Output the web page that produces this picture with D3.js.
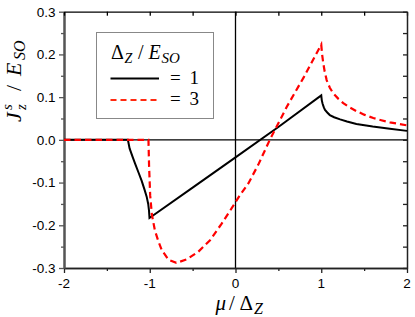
<!DOCTYPE html>
<html>
<head>
<meta charset="utf-8">
<script src="https://cdn.jsdelivr.net/npm/d3@7"></script>
<style>
  body { margin:0; background:#fff; }
  svg { display:block; }
</style>
</head>
<body>
<div id="chart"></div>
<script>
// values
const xTicks = [-2, -1, 0, 1, 2];
const xTickLabels = ["-2", "-1", "0", "1", "2"];
const xMinor = [-1.5, -0.5, 0.5, 1.5];
const yTicks = [-0.3, -0.2, -0.1, 0.0, 0.1, 0.2, 0.3];
const yTickLabels = ["-0.3", "-0.2", "-0.1", "0.0", "0.1", "0.2", "0.3"];
const yMinor = [-0.25, -0.15, -0.05, 0.05, 0.15, 0.25];

// Delta_Z / E_SO = 1
const muOne = [-2, -1.255, -1.235, -1.2, -1.172, -1.13, -1.094, -1.06, -1.036, -1.018, -1.009, -1.003,
  -0.5, 0, 0.5, 1, 1.006, 1.015, 1.03, 1.044, 1.07, 1.1, 1.15, 1.22, 1.3, 1.41, 1.6, 1.8, 2];
const jOne = [0, 0, -0.02, -0.04, -0.055, -0.077, -0.096, -0.117, -0.133, -0.15, -0.165, -0.183,
  -0.112, -0.041, 0.03, 0.104, 0.093, 0.085, 0.076, 0.07, 0.064, 0.058, 0.053, 0.048, 0.043, 0.037, 0.031, 0.026, 0.021];

// Delta_Z / E_SO = 3
const muThree = [-2, -1.015, -1.008, -0.995, -0.975, -0.94, -0.9, -0.86, -0.78, -0.69, -0.57, -0.434,
  -0.297, -0.161, -0.044, 0.05, 0.15, 0.266, 0.4, 0.6, 0.8, 1, 1.01, 1.024, 1.04, 1.063, 1.1, 1.14,
  1.2, 1.257, 1.33, 1.413, 1.5, 1.607, 1.7, 1.8, 2];
const jThree = [0, 0, -0.06, -0.13, -0.175, -0.212, -0.237, -0.258, -0.281, -0.288, -0.28, -0.262,
  -0.235, -0.196, -0.16, -0.13, -0.102, -0.058, 0, 0.078, 0.148, 0.223, 0.2, 0.179, 0.16, 0.14, 0.122, 0.109,
  0.096, 0.086, 0.076, 0.067, 0.059, 0.051, 0.046, 0.041, 0.034];

const W = 415, H = 317;
const L = 64, R = 407, T = 11.7, B = 268;
const SANS = "Liberation Sans";
const SERIF = "Liberation Serif";

const svg = d3.select("#chart").append("svg").attr("width", W).attr("height", H);
const x = d3.scaleLinear().domain([-2, 2]).range([L, R]);
const y = d3.scaleLinear().domain([-0.3, 0.3]).range([B, T]);

// zero lines
svg.append("line").attr("x1", L).attr("x2", R).attr("y1", y(0)).attr("y2", y(0))
  .attr("stroke", "#000").attr("stroke-width", 1.3);
svg.append("line").attr("x1", x(0)).attr("x2", x(0)).attr("y1", T).attr("y2", B)
  .attr("stroke", "#000").attr("stroke-width", 1.3);

// axes (outer ticks left/bottom, inner mirror ticks top/right)
function axisG(axis, tx, ty, col, w){
  const g = svg.append("g").attr("transform", `translate(${tx},${ty})`).call(axis);
  g.selectAll("text").remove();
  g.select(".domain").attr("stroke", col).attr("stroke-width", w);
  g.selectAll(".tick line").attr("stroke", col).attr("stroke-width", 1.3);
  return g;
}
axisG(d3.axisBottom(x).tickValues(xTicks).tickSize(5).tickSizeOuter(0), 0, B, "#222", 1.5);
axisG(d3.axisBottom(x).tickValues(xMinor).tickSize(3).tickSizeOuter(0), 0, B, "#222", 1.5);
axisG(d3.axisLeft(y).tickValues(yTicks).tickSize(5).tickSizeOuter(0), L, 0, "#555", 2);
axisG(d3.axisLeft(y).tickValues(yMinor).tickSize(3).tickSizeOuter(0), L, 0, "#555", 2);
axisG(d3.axisTop(x).tickValues(xTicks.concat(xMinor)).tickSize(-4).tickSizeOuter(0), 0, T, "#000", 1.2);
axisG(d3.axisRight(y).tickValues(yTicks.concat(yMinor)).tickSize(-4).tickSizeOuter(0), R, 0, "#222", 1.5);

// tick labels
svg.append("g").selectAll("text").data(xTicks).enter().append("text")
  .attr("font-family", SANS).attr("font-size", 13.5)
  .attr("x", d => x(d)).attr("y", 287.5)
  .attr("text-anchor", "middle").text((d, i) => xTickLabels[i]);
svg.append("g").selectAll("text").data(yTicks).enter().append("text")
  .attr("font-family", SANS).attr("font-size", 13.5)
  .attr("x", 55.5).attr("y", d => y(d) + 4.8)
  .attr("text-anchor", "end").text((d, i) => yTickLabels[i]);

// curves
const line = d3.line().x(d => x(d[0])).y(d => y(d[1]));
svg.append("path").datum(d3.zip(muOne, jOne)).attr("d", line)
  .attr("fill", "none").attr("stroke", "#000").attr("stroke-width", 2);
svg.append("path").datum(d3.zip(muThree, jThree)).attr("d", line)
  .attr("fill", "none").attr("stroke", "#ff0000").attr("stroke-width", 2.2)
  .attr("stroke-dasharray", "6.5,4");

// legend
svg.append("rect").attr("x", 96.5).attr("y", 32.5).attr("width", 117).attr("height", 86)
  .attr("fill", "#fff").attr("stroke", "#888").attr("stroke-width", 1);
const lt = svg.append("text").attr("font-family", SERIF).attr("y", 59).attr("font-size", 20);
lt.append("tspan").attr("x", 111).text("Δ");
lt.append("tspan").attr("x", 124.5).attr("font-style", "italic").attr("font-size", 14).attr("dy", 4).text("Z");
lt.append("tspan").attr("x", 138).attr("dy", -4).text("/");
lt.append("tspan").attr("x", 148.5).attr("font-style", "italic").text("E");
lt.append("tspan").attr("x", 161.5).attr("font-style", "italic").attr("font-size", 15).attr("dy", 4).text("SO");

svg.append("line").attr("x1", 110.5).attr("x2", 159).attr("y1", 78.5).attr("y2", 78.5)
  .attr("stroke", "#000").attr("stroke-width", 2);
svg.append("line").attr("x1", 110.5).attr("x2", 159).attr("y1", 100).attr("y2", 100)
  .attr("stroke", "#ff2a10").attr("stroke-width", 2).attr("stroke-dasharray", "6,4");
const l1 = svg.append("text").attr("font-family", SERIF).attr("y", 84).attr("font-size", 19);
l1.append("tspan").attr("x", 170).text("=");
l1.append("tspan").attr("x", 189.5).text("1");
const l3 = svg.append("text").attr("font-family", SERIF).attr("y", 105).attr("font-size", 19);
l3.append("tspan").attr("x", 170).text("=");
l3.append("tspan").attr("x", 189.5).text("3");

// x title
const xt = svg.append("text").attr("font-family", SERIF).attr("y", 310).attr("font-size", 21);
xt.append("tspan").attr("x", 215.5).attr("font-style", "italic").text("μ");
xt.append("tspan").attr("x", 229).text("/");
xt.append("tspan").attr("x", 239.5).text("Δ");
xt.append("tspan").attr("x", 254).attr("font-style", "italic").attr("font-size", 16).attr("dy", 4).text("Z");

// y title (rotated; x offsets run upward from the bottom of the label)
const yt = svg.append("text").attr("font-family", SERIF).attr("font-size", 22)
  .attr("transform", "translate(21,122) rotate(-90)");
yt.append("tspan").attr("x", 0).attr("font-style", "italic").text("J");
yt.append("tspan").attr("x", 12).attr("font-style", "italic").attr("font-size", 15).attr("dy", -9).text("s");
yt.append("tspan").attr("x", 12).attr("font-style", "italic").attr("font-size", 15).attr("dy", 14).text("z");
yt.append("tspan").attr("x", 31).attr("dy", -5).text("/");
yt.append("tspan").attr("x", 46).attr("font-style", "italic").text("E");
yt.append("tspan").attr("x", 62).attr("font-style", "italic").attr("font-size", 16).attr("dy", 4).text("SO");
</script>
</body>
</html>
